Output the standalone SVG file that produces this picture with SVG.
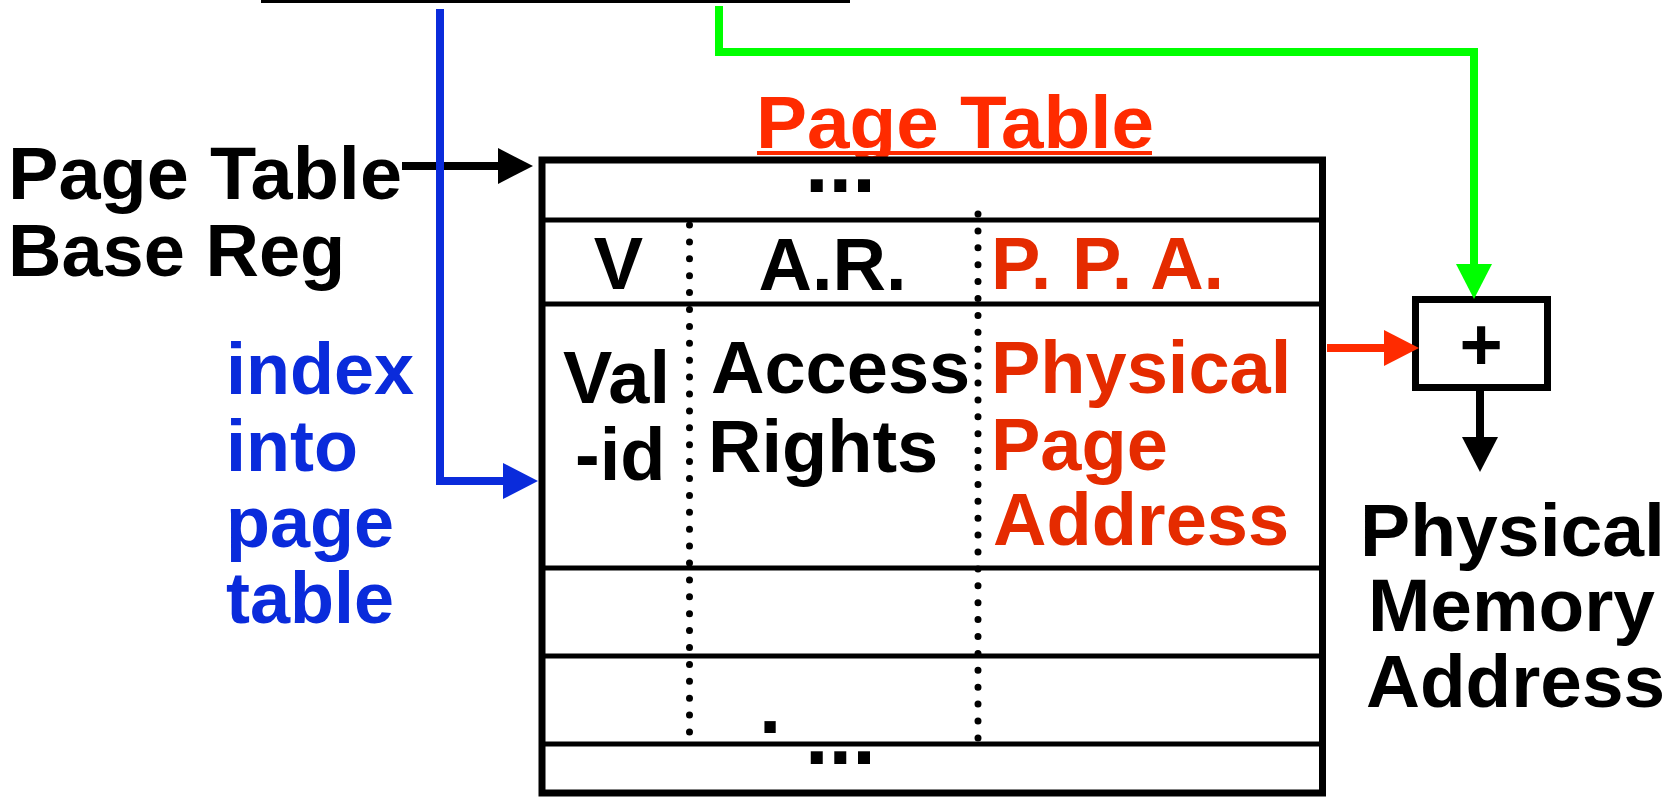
<svg xmlns="http://www.w3.org/2000/svg" width="1675" height="797" viewBox="0 0 1675 797">
  <style>
    .t { font-family: "Liberation Sans", Arial, Helvetica, sans-serif; font-weight: bold; font-size: 74px; }
    .blk { fill: #000000; }
    .red { fill: #E52B00; }
    .title { fill: #FF2B00; }
    .blue { fill: #0A2BDB; }
    .box { fill: #FFFFFF; stroke: #000000; stroke-width: 7; }
    .row { stroke: #000000; stroke-width: 5; }
    .dots { stroke: #000000; stroke-width: 7; stroke-linecap: round; stroke-dasharray: 0 16.9; fill: none; }
    .conn { fill: none; stroke-width: 8; stroke-linejoin: miter; }
  </style>
  <defs>
    <marker id="ah-black" markerUnits="userSpaceOnUse" markerWidth="36" markerHeight="38" viewBox="0 -19 36 38" refX="0" refY="0" orient="auto">
      <path d="M0,-18 L35,0 L0,18 Z" fill="#000000"/>
    </marker>
    <marker id="ah-blue" markerUnits="userSpaceOnUse" markerWidth="36" markerHeight="38" viewBox="0 -19 36 38" refX="0" refY="0" orient="auto">
      <path d="M0,-18 L35,0 L0,18 Z" fill="#0A2BDB"/>
    </marker>
    <marker id="ah-green" markerUnits="userSpaceOnUse" markerWidth="36" markerHeight="38" viewBox="0 -19 36 38" refX="0" refY="0" orient="auto">
      <path d="M0,-18 L35,0 L0,18 Z" fill="#00FF00"/>
    </marker>
    <marker id="ah-red" markerUnits="userSpaceOnUse" markerWidth="36" markerHeight="38" viewBox="0 -19 36 38" refX="0" refY="0" orient="auto">
      <path d="M0,-18 L35,0 L0,18 Z" fill="#FF2B00"/>
    </marker>
  </defs>

  <rect x="0" y="0" width="1675" height="797" fill="#FFFFFF"/>

  <!-- bottom edge of the (cropped) virtual address register -->
  <g id="virtual-address-edge">
    <line x1="261" y1="1.5" x2="850" y2="1.5" stroke="#000000" stroke-width="3"/>
  </g>

  <!-- page table base register label -->
  <g id="ptbr-label">
    <text class="t blk" x="8" y="199" textLength="394" lengthAdjust="spacingAndGlyphs">Page Table</text>
    <text class="t blk" x="8" y="276">Base Reg</text>
  </g>

  <!-- index label -->
  <g id="index-label">
    <text class="t blue" style="font-size:72px" x="226" y="394">index</text>
    <text class="t blue" style="font-size:72px" x="226" y="471">into</text>
    <text class="t blue" style="font-size:72px" x="226" y="547">page</text>
    <text class="t blue" style="font-size:72px" x="226" y="623">table</text>
  </g>

  <!-- page table -->
  <g id="page-table">
    <text class="t title" x="756" y="148" textLength="398" lengthAdjust="spacingAndGlyphs">Page Table</text>
    <rect x="757" y="151" width="395" height="4" fill="#FF2B00"/>
    <rect class="box" x="542" y="160" width="780.5" height="633"/>
    <line class="row" x1="545" y1="220" x2="1319" y2="220"/>
    <line class="row" x1="545" y1="304" x2="1319" y2="304"/>
    <line class="row" x1="545" y1="568" x2="1319" y2="568"/>
    <line class="row" x1="545" y1="656" x2="1319" y2="656"/>
    <line class="row" x1="545" y1="744" x2="1319" y2="744"/>
    <line class="dots" x1="689.5" y1="225" x2="689.5" y2="733"/>
    <line class="dots" x1="978" y1="214" x2="978" y2="741"/>
    <text class="t blk" style="font-size:85px" x="805" y="192">...</text>
    <text class="t blk" x="618.5" y="289" text-anchor="middle">V</text>
    <text class="t blk" x="832.5" y="290" text-anchor="middle">A.R.</text>
    <text class="t red" x="991" y="289">P. P. A.</text>
    <text class="t blk" x="563" y="403">Val</text>
    <text class="t blk" x="575" y="480">-id</text>
    <text class="t blk" x="711" y="393">Access</text>
    <text class="t blk" x="708" y="472">Rights</text>
    <text class="t red" x="991" y="393">Physical</text>
    <text class="t red" x="991" y="470">Page</text>
    <text class="t red" x="993" y="545">Address</text>
    <text class="t blk" style="font-size:80px" x="759" y="733">.</text>
    <text class="t blk" style="font-size:85px" x="805" y="764">...</text>
  </g>

  <!-- adder -->
  <g id="adder">
    <rect class="box" x="1415.5" y="299.5" width="132" height="88"/>
    <text class="t blk" x="1481" y="370" text-anchor="middle">+</text>
  </g>

  <!-- physical memory address label -->
  <g id="pma-label">
    <text class="t blk" x="1360" y="556" textLength="305" lengthAdjust="spacingAndGlyphs">Physical</text>
    <text class="t blk" x="1368" y="631" textLength="287" lengthAdjust="spacingAndGlyphs">Memory</text>
    <text class="t blk" x="1366" y="707" textLength="299" lengthAdjust="spacingAndGlyphs">Address</text>
  </g>

  <!-- connectors -->
  <g id="connectors">
    <path class="conn" stroke="#000000" d="M402,166 H498" marker-end="url(#ah-black)"/>
    <path class="conn" stroke="#0A2BDB" d="M440,9 V481 H503" marker-end="url(#ah-blue)"/>
    <path class="conn" stroke="#00FF00" d="M719,6 V52 H1474 V264" marker-end="url(#ah-green)"/>
    <path class="conn" stroke="#FF2B00" d="M1327,348 H1384" marker-end="url(#ah-red)"/>
    <path class="conn" stroke="#000000" d="M1480,391 V437" marker-end="url(#ah-black)"/>
  </g>
</svg>
